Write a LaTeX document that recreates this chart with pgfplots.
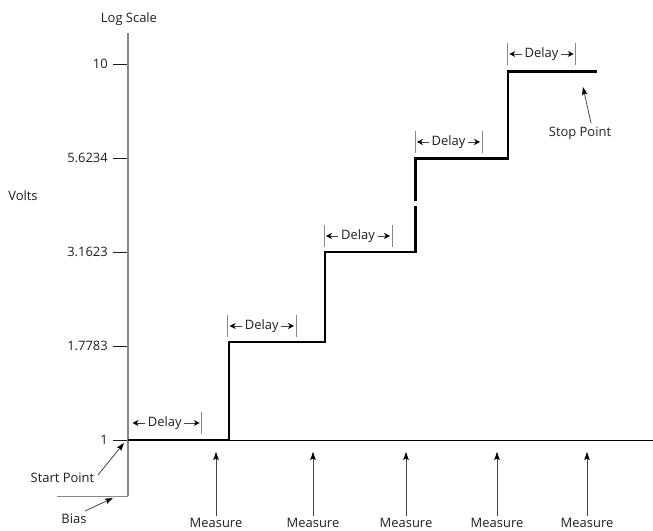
\documentclass[border=0pt]{standalone}
\usepackage{fontspec}
\setmainfont{Open Sans}
\usepackage{pgfplots}
\pgfplotsset{compat=1.18}
\usetikzlibrary{arrows.meta}
\definecolor{axgray}{HTML}{888888}
\definecolor{txt}{HTML}{1E1E1E}
\definecolor{lin}{HTML}{444444}
\newcommand{\delay}[4]{%
  \node (d) at ({(#1+#2)/2},#3) {Delay};
  \draw[darr] ([xshift=-2.5bp]d.west) -- (#1+#4,#3);
  \draw[darr] ([xshift=2.5bp]d.east) -- (#2-2,#3);
  \draw[axgray, line width=0.8bp] (#2,#3-11) -- (#2,#3+11);
}
\begin{document}
\begin{tikzpicture}[
  darr/.style={draw=lin, line width=0.7bp, -{Stealth[length=6bp,width=6bp,inset=2bp,color=black]}},
  marr/.style={draw=lin, line width=0.8bp, -{Stealth[length=8bp,width=5.5bp,inset=1.5bp,color=black]}}
]
\useasboundingbox (0,0) rectangle (653bp,531bp);
\begin{axis}[
  at={(128bp,35bp)}, anchor=south west,
  scale only axis, width=527bp, height=463bp,
  xmin=128, xmax=655, ymode=log, ymin=0.7098, ymax=12.09,
  axis x line=none, axis y line=left,
  axis line style={-, draw=axgray, line width=1.2bp},
  ytick={1,1.7783,3.1623,5.6234,10},
  yticklabels={1,1.7783,3.1623,5.6234,10},
  yminorticks=false,
  tick align=outside, major tick length=15bp,
  tick style={draw=txt, line width=0.8bp},
  yticklabel style={font=\fontsize{13}{15}\selectfont, text=txt, inner sep=0pt, xshift=-5bp},
  /pgf/number format/assume math mode=true,
  clip=false,
]
\addplot[black, line width=0.9bp] coordinates {(128,1) (655,1)};
\addplot[axgray, line width=1bp] coordinates {(57,0.7098) (128,0.7098)};
\addplot[black, line width=2.6bp, line join=miter] coordinates {(128,1) (229,1) (229,1.822) (325,1.822) (325,3.162) (415.7,3.162) (415.7,4.19)};
\addplot[black, line width=2.6bp, line join=miter] coordinates {(415.7,4.32) (415.7,5.61) (508,5.61) (508,9.54) (597,9.54)};
\end{axis}
\begin{scope}[x=1bp, y=-1bp, yshift=531bp, every node/.style={font=\fontsize{13}{15}\selectfont, text=txt, inner sep=0pt}]
\node[anchor=base] at (129,23) {Log Scale};
\node[anchor=base] at (23,201) {Volts};
\node[anchor=base] at (62.5,483) {Start Point};
\node[anchor=base] at (74,524) {Bias};
\node[anchor=base] at (580,137) {Stop Point};
\foreach \x in {216,313,406,497,587} {
  \node[anchor=base] at (\x,527.5) {Measure};
  \draw[marr] (\x,516) -- (\x,452);
}
\draw[marr] (98,475) -- (124,443);
\draw[marr] (85,511) -- (113,498);
\draw[marr] (591,123) -- (583,87);
\delay{128}{201.7}{423}{4.5}
\delay{227.7}{296}{326}{2}
\draw[axgray, line width=0.8bp] (227.7,315) -- (227.7,337);
\delay{324}{392}{236}{2}
\draw[axgray, line width=0.8bp] (324,225) -- (324,247);
\delay{415}{482}{142}{2}
\draw[axgray, line width=0.8bp] (415,131) -- (415,153);
\delay{507.3}{575.7}{54}{2}
\draw[axgray, line width=0.8bp] (507.3,43) -- (507.3,65);
\end{scope}
\end{tikzpicture}
\end{document}
